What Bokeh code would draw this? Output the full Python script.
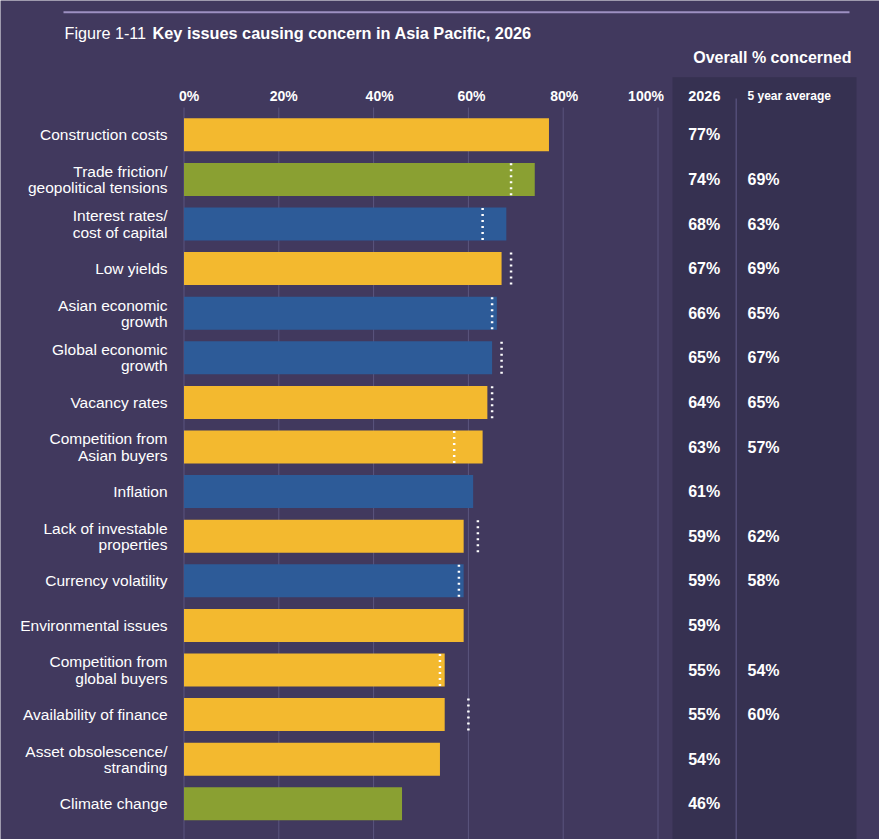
from bokeh.plotting import figure
from bokeh.models import ColumnDataSource, Range1d, BoxAnnotation, Label
from bokeh.embed import file_html
from bokeh.resources import INLINE
from bokeh.core.properties import value

# ---- data -------------------------------------------------------------
categories = [
    "Construction costs",
    "Trade friction/\ngeopolitical tensions",
    "Interest rates/\ncost of capital",
    "Low yields",
    "Asian economic\ngrowth",
    "Global economic\ngrowth",
    "Vacancy rates",
    "Competition from\nAsian buyers",
    "Inflation",
    "Lack of investable\nproperties",
    "Currency volatility",
    "Environmental issues",
    "Competition from\nglobal buyers",
    "Availability of finance",
    "Asset obsolescence/\nstranding",
    "Climate change",
]
concern_2026 = [77, 74, 68, 67, 66, 65, 64, 63, 61, 59, 59, 59, 55, 55, 54, 46]
five_year_avg = [None, 69, 63, 69, 65, 67, 65, 57, None, 62, 58, None, 54, 60, None, None]
issue_group = [
    "real estate", "political", "economic", "real estate", "economic",
    "economic", "real estate", "real estate", "economic", "real estate",
    "economic", "real estate", "real estate", "real estate", "real estate",
    "political",
]
tick_values = [0, 20, 40, 60, 80, 100]
tick_labels = ["0%", "20%", "40%", "60%", "80%", "100%"]

# ---- style ------------------------------------------------------------
BG = "#41395e"
PANEL = "#363151"
GRID = "#5b557e"
DIVIDER = "#5a5480"
RULE = "#9d90c2"
GROUP_COLORS = {"real estate": "#f3b92f", "political": "#8aa032", "economic": "#2d5b98"}
FONT = value("Liberation Sans")
TICK_NUDGE_PX = [5, 5, 6, 3, 1, -12]   # small horizontal shifts of the scale labels

W, H = 879, 839
X0_PX, PX_PER_PCT = 183.5, 4.74      # where 0% sits and how wide one percent is
ROW0_PX, ROW_PX = 134.3, 44.6        # centre of the first row and row pitch


def dx(px):
    return (px - X0_PX) / PX_PER_PCT


def dy(py):
    return (py - ROW0_PX) / ROW_PX


rows = list(range(len(categories)))
source = ColumnDataSource(dict(
    row=rows,
    cat=categories,
    val=concern_2026,
    val_txt=[f"{v}%" for v in concern_2026],
    color=[GROUP_COLORS[g] for g in issue_group],
))

avg_rows = [r for r, a in zip(rows, five_year_avg) if a is not None]
avg_vals = [a for a in five_year_avg if a is not None]
avg_source = ColumnDataSource(dict(
    row=avg_rows,
    avg=avg_vals,
    top=[r - 0.36 for r in avg_rows],
    bot=[r + 0.36 for r in avg_rows],
    avg_txt=[f"{a}%" for a in avg_vals],
))

tick_source = ColumnDataSource(dict(
    x=tick_values,
    y=[dy(95)] * len(tick_values),
    label=tick_labels,
    nudge=TICK_NUDGE_PX,
))

p = figure(
    width=W, height=H,
    x_range=Range1d(dx(0), dx(W)),
    y_range=Range1d(dy(H), dy(0)),
    output_backend="svg", toolbar_location=None,
    x_axis_location=None, y_axis_location=None,
    min_border=0, background_fill_color=BG, border_fill_color=BG,
    outline_line_color=None,
)
p.grid.visible = False

# dark panel behind the "Overall % concerned" columns
p.add_layout(BoxAnnotation(left=dx(672), right=dx(856), top=dy(76.7), bottom=dy(H),
                           fill_color=PANEL, fill_alpha=1, line_color=None, level="underlay"))

# rule across the top
p.segment(x0=[dx(63)], y0=[dy(11.7)], x1=[dx(849)], y1=[dy(11.7)], line_color=RULE, line_width=2)

# vertical gridlines
p.segment(x0=tick_values, y0=dy(107), x1=tick_values, y1=dy(H), line_color=GRID, line_width=1)
# divider between the two value columns
p.segment(x0=[dx(735.7)], y0=[dy(98)], x1=[dx(735.7)], y1=[dy(H)], line_color=DIVIDER, line_width=1.2)

# bars
p.hbar(y="row", left=0, right="val", height=0.74, fill_color="color", line_color=None, source=source)

# five-year average markers
p.segment(x0="avg", y0="top", x1="avg", y1="bot", line_color="white", line_width=2.5,
          line_dash="2 4", source=avg_source)

# category labels
p.text(x=dx(167), y="row", text="cat", source=source, text_align="right", text_baseline="middle",
       text_font=FONT, text_font_size="15.5px", text_color="white", text_line_height=0.95)

# value columns
p.text(x=dx(687.7), y="row", text="val_txt", source=source, text_align="left", text_baseline="middle",
       text_font=FONT, text_font_size="16px", text_font_style="bold", text_color="white")
p.text(x=dx(747), y="row", text="avg_txt", source=avg_source, text_align="left", text_baseline="middle",
       text_font=FONT, text_font_size="16px", text_font_style="bold", text_color="white")

# percentage scale along the top
p.text(x="x", y="y", text="label", x_offset="nudge", source=tick_source, text_align="center",
       text_baseline="middle", text_font=FONT, text_font_size="14px", text_font_style="bold",
       text_color="white")

# column headers
p.add_layout(Label(x=dx(687.7), y=dy(95), text="2026", text_align="left", text_baseline="middle",
                   text_font="Liberation Sans", text_font_size="14.5px", text_font_style="bold",
                   text_color="white"))
p.add_layout(Label(x=dx(747), y=dy(95), text="5 year average", text_align="left", text_baseline="middle",
                   text_font="Liberation Sans", text_font_size="12px", text_font_style="bold",
                   text_color="white"))
p.add_layout(Label(x=dx(851), y=dy(56.5), text="Overall % concerned", text_align="right",
                   text_baseline="middle", text_font="Liberation Sans", text_font_size="16px",
                   text_font_style="bold", text_color="white"))

# title
p.add_layout(Label(x=dx(64), y=dy(32), text="Figure 1-11", text_align="left", text_baseline="middle",
                   text_font="Liberation Sans", text_font_size="16.2px", text_color="white"))
p.add_layout(Label(x=dx(152), y=dy(32), text="Key issues causing concern in Asia Pacific, 2026",
                   text_align="left", text_baseline="middle", text_font="Liberation Sans",
                   text_font_size="16.3px", text_font_style="bold", text_color="white"))

open("out.html", "w").write(file_html(p, INLINE))
